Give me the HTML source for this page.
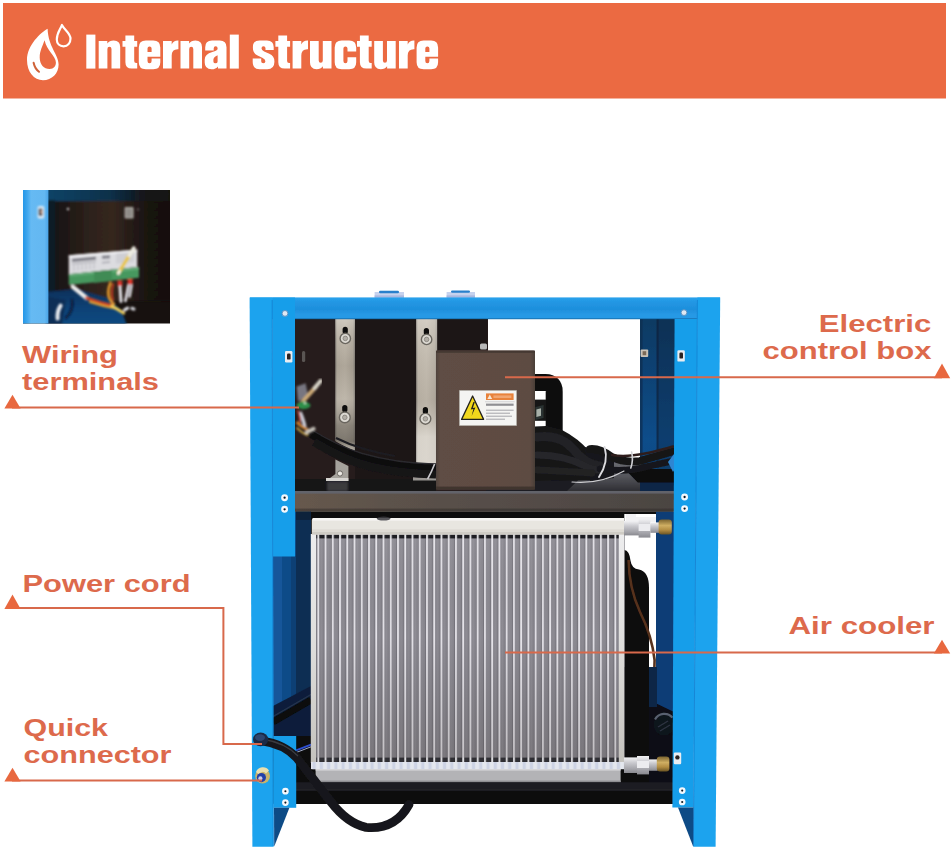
<!DOCTYPE html>
<html>
<head>
<meta charset="utf-8">
<title>Internal structure</title>
<style>
  html, body { margin: 0; padding: 0; background: #ffffff; }
  body { width: 952px; height: 851px; overflow: hidden; font-family: "Liberation Sans", sans-serif; }
  svg { display: block; }
  .lbl { font-family: "Liberation Sans", sans-serif; font-weight: bold; font-size: 23.5px; fill: #dd6a4c; }
  .ttl { font-family: "Liberation Sans", sans-serif; font-weight: bold; fill: #ffffff; stroke: #ffffff; }
</style>
</head>
<body>
<svg width="952" height="851" viewBox="0 0 952 851">
  <defs>
    <filter id="soft" x="-5%" y="-5%" width="110%" height="110%"><feGaussianBlur stdDeviation="0.6"/></filter>
    <filter id="soft05" x="-2%" y="-2%" width="104%" height="104%"><feGaussianBlur stdDeviation="0.5"/></filter>
    <filter id="soft1" x="-5%" y="-5%" width="110%" height="110%"><feGaussianBlur stdDeviation="0.85"/></filter>
    <filter id="soft2" x="-5%" y="-5%" width="110%" height="110%"><feGaussianBlur stdDeviation="1.2"/></filter>
    <pattern id="fins" x="316.4" y="0" width="7.245" height="10" patternUnits="userSpaceOnUse">
      <rect x="0" y="0" width="7.245" height="10" fill="#88868e"/>
      <rect x="0.1" y="0" width="0.9" height="10" fill="#74727a"/>
      <rect x="1.0" y="0" width="1.8" height="10" fill="#e6e4ea"/>
      <rect x="4.2" y="0" width="1.4" height="10" fill="#8e8c94"/>
    </pattern>
    
    <!-- Impact-style glyphs: baseline y=0, cap -34, x-height -27.7 -->
    <path id="gI" d="M0 0 V-34 H9.1 V0 Z"/>
    <path id="gl" d="M0 0 V-34 H9 V0 Z"/>
    <path id="gn" d="M0 0 V-27.6 H8.6 V-25.2 Q10.6 -28.2 15 -28.2 Q21.5 -28.2 21.5 -21.6 V0 H12.8 V-19.6 Q12.8 -21.8 10.7 -21.8 Q8.7 -21.8 8.7 -19.6 V0 Z"/>
    <path id="gu" d="M0 -27.6 H8.7 V-8 Q8.7 -5.8 10.75 -5.8 Q12.8 -5.8 12.8 -8 V-27.6 H21.5 V0 H12.9 V-2.4 Q10.9 0.6 6.5 0.6 Q0 0.6 0 -6 Z"/>
    <path id="gt" d="M2.9 -33.2 H11.7 V-27.6 H14.7 V-21.8 H11.7 V-7.6 Q11.7 -5.6 13.6 -5.6 H14.7 V0 H9.2 Q2.9 0 2.9 -6.3 V-21.8 H0 V-27.6 H2.9 Z"/>
    <path id="gr" d="M0 0 V-27.6 H8.7 V-24 Q10.4 -28.2 15.4 -28 V-19.4 Q8.7 -19.8 8.7 -13 V0 Z"/>
    <path id="ge" fill-rule="evenodd" d="M7 -28.2 H14.5 Q21.5 -28.2 21.5 -21.2 V-11.8 H8.7 V-7.6 Q8.7 -5.4 10.75 -5.4 Q12.8 -5.4 12.8 -7.6 V-10.2 H21.5 V-6.4 Q21.5 0.6 14.5 0.6 H7 Q0 0.6 0 -6.4 V-21.2 Q0 -28.2 7 -28.2 Z M8.7 -16.6 V-20 Q8.7 -22.2 10.75 -22.2 Q12.8 -22.2 12.8 -20 V-16.6 Z"/>
    <path id="gc" d="M7 -28.2 H14.5 Q21.5 -28.2 21.5 -21.2 V-17 H12.8 V-20 Q12.8 -22.2 10.75 -22.2 Q8.7 -22.2 8.7 -20 V-7.6 Q8.7 -5.4 10.75 -5.4 Q12.8 -5.4 12.8 -7.6 V-11.4 H21.5 V-6.4 Q21.5 0.6 14.5 0.6 H7 Q0 0.6 0 -6.4 V-21.2 Q0 -28.2 7 -28.2 Z"/>
    <path id="ga" fill-rule="evenodd" d="M7.3 -28.2 H15 Q21.8 -28.2 21.8 -21.4 V0 H13.3 V-2.2 Q11.2 0.6 6.8 0.6 Q0 0.6 0 -6 V-9 Q0 -14.6 7.6 -16.6 Q12.9 -18 12.9 -19.8 V-20.4 Q12.9 -22.3 11 -22.3 Q9 -22.3 9 -20.2 V-18 H0.5 V-21.4 Q0.5 -28.2 7.3 -28.2 Z M12.9 -13.4 Q8.7 -11.6 8.7 -9 V-7.2 Q8.7 -5.3 10.8 -5.3 Q12.9 -5.3 12.9 -7.2 Z"/>
    <path id="gs" d="M6.9 -28.2 H14.2 Q21 -28.2 21 -21.6 V-18.6 H12.8 V-20.4 Q12.8 -22.4 10.8 -22.4 Q8.8 -22.4 8.8 -20.4 Q8.8 -18.4 11.4 -17.2 L16.6 -14.8 Q21.7 -12.4 21.7 -7.4 V-6.5 Q21.7 0.6 14.6 0.6 H7 Q0 0.6 0 -6.5 V-10.2 H8.5 V-7.4 Q8.5 -5.3 10.6 -5.3 Q12.7 -5.3 12.7 -7.4 Q12.7 -9.4 10 -10.6 L4.9 -13 Q0.2 -15.4 0.2 -20.6 V-21.6 Q0.2 -28.2 6.9 -28.2 Z"/>
    <pattern id="finsDark" x="316.4" y="0" width="7.245" height="10" patternUnits="userSpaceOnUse">
      <rect x="0" y="0" width="7.245" height="10" fill="#1d1d22"/>
      <rect x="1.0" y="0" width="1.9" height="10" fill="#e3e3e6"/>
    </pattern>
    <pattern id="bumps" x="316.4" y="0" width="7.245" height="10" patternUnits="userSpaceOnUse">
      <rect x="3.4" y="0" width="3.2" height="10" fill="#c3cbe0" opacity="0.7"/>
    </pattern>
    <linearGradient id="gFinShade" x1="0" y1="0" x2="0" y2="1">
      <stop offset="0" stop-color="#ffffff" stop-opacity="0.06"/>
      <stop offset="0.45" stop-color="#000000" stop-opacity="0"/>
      <stop offset="1" stop-color="#1a1208" stop-opacity="0.16"/>
    </linearGradient>
    <linearGradient id="gSideFrame" x1="0" y1="0" x2="0" y2="1">
      <stop offset="0" stop-color="#ededee"/>
      <stop offset="0.5" stop-color="#dedddb"/>
      <stop offset="1" stop-color="#c4c2bd"/>
    </linearGradient>
    <linearGradient id="gShelfTop" x1="0" y1="0" x2="0" y2="1">
      <stop offset="0" stop-color="#6b6c72"/>
      <stop offset="0.5" stop-color="#54555b"/>
      <stop offset="1" stop-color="#2c2c31"/>
    </linearGradient>
    <linearGradient id="gBackPost" x1="0" y1="0" x2="0" y2="1">
      <stop offset="0" stop-color="#0b3a62"/>
      <stop offset="0.35" stop-color="#0d4376"/>
      <stop offset="0.7" stop-color="#0f4d8a"/>
      <stop offset="1" stop-color="#0e4980"/>
    </linearGradient>
    <linearGradient id="gShelfFront" x1="0" y1="0" x2="1" y2="0">
      <stop offset="0" stop-color="#67594d"/>
      <stop offset="0.25" stop-color="#5c524b"/>
      <stop offset="0.6" stop-color="#544c47"/>
      <stop offset="1" stop-color="#4b4542"/>
    </linearGradient>
    <linearGradient id="gBeam" x1="0" y1="0" x2="0" y2="1">
      <stop offset="0" stop-color="#2ba2ec"/>
      <stop offset="0.2" stop-color="#2297e4"/>
      <stop offset="0.55" stop-color="#1e8fdc"/>
      <stop offset="0.8" stop-color="#2799e5"/>
      <stop offset="0.93" stop-color="#2799e5"/>
      <stop offset="1" stop-color="#14639f"/>
    </linearGradient>
  </defs>

  <!-- page background -->
  <rect x="0" y="0" width="952" height="851" fill="#ffffff"/>

  <!-- ============ BANNER ============ -->
  <g id="banner">
    <rect x="3" y="3" width="943" height="95.5" fill="#eb6a42"/>
    <g id="title" fill="#ffffff">
      <use href="#gI" x="86.3" y="68.6"/>
      <use href="#gn" x="98.7" y="68.6"/>
      <use href="#gt" x="122.5" y="68.6"/>
      <use href="#ge" x="138.8" y="68.6"/>
      <use href="#gr" x="163.0" y="68.6"/>
      <use href="#gn" x="180.5" y="68.6"/>
      <use href="#ga" x="204.7" y="68.6"/>
      <use href="#gl" x="229.8" y="68.6"/>
      <use href="#gs" x="252.7" y="68.6"/>
      <use href="#gt" x="275.4" y="68.6"/>
      <use href="#gr" x="292.6" y="68.6"/>
      <use href="#gu" x="310.0" y="68.6"/>
      <use href="#gc" x="334.7" y="68.6"/>
      <use href="#gt" x="357.0" y="68.6"/>
      <use href="#gu" x="374.2" y="68.6"/>
      <use href="#gr" x="399.0" y="68.6"/>
      <use href="#ge" x="416.6" y="68.6"/>
    </g>
    <g id="dropicon">
      <path fill="#ffffff" fill-rule="evenodd" d="M47.6 28.8 C41 32.5 27 45 27 60 C27 72 34 80.2 43 80.2 C52 80.2 58.6 73.5 58.6 64.5 C58.6 54.5 48.2 47 47.6 28.8 Z M44.6 40.3 C42.6 46 39.7 51 39.7 57.5 C39.7 64.5 44 69 49.5 69 C54 69 55.9 66 55.9 62.5 C55.9 56 46.4 50.5 44.6 40.3 Z"/>
      <path fill="none" stroke="#cf6238" stroke-width="2" stroke-linecap="round" d="M33.6 62.8 C34.5 67 36.5 70 39 71.8"/>
      <path fill="none" stroke="#ffffff" stroke-width="2.2" stroke-linejoin="round" d="M61.9 25 C60.4 29.5 56.8 33 56.8 39.5 C56.8 43.8 59.8 46.3 63.6 46.3 C67.8 46.3 70.5 43 70.5 38.6 C70.5 33 64.5 30 61.9 25 Z"/>
    </g>
  </g>

  <!-- ============ INSET PHOTO ============ -->
  <g id="inset">
    <defs>
      <clipPath id="insClip"><rect x="23" y="190" width="147" height="133.4"/></clipPath>
      <linearGradient id="gInsStrip" x1="0" y1="0" x2="1" y2="0">
        <stop offset="0" stop-color="#2597e8"/>
        <stop offset="0.16" stop-color="#3fa6ed"/>
        <stop offset="0.32" stop-color="#66baf3"/>
        <stop offset="0.85" stop-color="#63b7f1"/>
        <stop offset="1" stop-color="#4aa3e6"/>
      </linearGradient>
      <linearGradient id="gInsTop" x1="0" y1="0" x2="1" y2="0">
        <stop offset="0" stop-color="#0d4468"/>
        <stop offset="0.5" stop-color="#0b3049"/>
        <stop offset="0.75" stop-color="#14161a"/>
        <stop offset="1" stop-color="#17110f"/>
      </linearGradient>
      <linearGradient id="gInsPanel" x1="0" y1="0" x2="1" y2="0">
        <stop offset="0" stop-color="#141110"/>
        <stop offset="0.3" stop-color="#2c211b"/>
        <stop offset="0.5" stop-color="#35271f"/>
        <stop offset="0.66" stop-color="#241a16"/>
        <stop offset="0.8" stop-color="#18120f"/>
        <stop offset="1" stop-color="#16110f"/>
      </linearGradient>
      <linearGradient id="gInsBlue" x1="0" y1="0" x2="0" y2="1">
        <stop offset="0" stop-color="#07305a"/>
        <stop offset="0.5" stop-color="#0a4276"/>
        <stop offset="1" stop-color="#0a4a82"/>
      </linearGradient>
    </defs>
    <g clip-path="url(#insClip)">
      <rect x="23" y="190" width="147" height="134" fill="#17110f"/>
      <g filter="url(#soft2)">
        <rect x="46" y="186" width="130" height="17" fill="url(#gInsTop)"/>
        <rect x="50" y="201" width="125" height="100" fill="url(#gInsPanel)"/>
        <rect x="47" y="200" width="8" height="95" fill="#0d1a26"/>
        <!-- blue floor -->
        <path d="M46 292 L76 289 L108 298 L122 312 L128 328 L46 328 Z" fill="url(#gInsBlue)"/>
        <path d="M46 296 L66 300 L62 326 L46 326 Z" fill="#0a2f56"/>
      </g>
      <!-- light blue strip -->
      <rect x="23" y="190" width="25.4" height="134" fill="url(#gInsStrip)"/>
      <g filter="url(#soft1)">
        <!-- latch -->
        <rect x="37.6" y="206" width="6.6" height="12.6" rx="1.5" fill="#dfeaf5"/>
        <rect x="38.8" y="208.4" width="3.6" height="7.6" rx="1.2" fill="#1b2430"/>
        <rect x="40.6" y="209.6" width="1.8" height="4.6" fill="#d9a98c"/>
        <!-- small dots / plate -->
        <circle cx="68" cy="209" r="1.2" fill="#cfcfcf"/>
        <circle cx="138" cy="209.4" r="1.2" fill="#5a5552"/>
        <rect x="124.6" y="207" width="9" height="11.6" rx="1" fill="#a9a6a1"/>
        <rect x="126" y="208.6" width="6.2" height="8.4" fill="#8f8c88"/>
        <!-- terminal label plate -->
        <path d="M68.8 255.2 L137.2 249.4 L137.2 267 L68.8 274.2 Z" fill="#dcdce0"/>
        <path d="M68.8 255.2 L137.2 249.4 L137.2 252 L68.8 257.8 Z" fill="#efeff2"/>
        <path d="M72 258.8 L96 256.6 V259.8 L72 262 Z" fill="#7d7d86"/>
        <path d="M72 263.5 L96 261.3 V262.3 L72 264.5 Z" fill="#a7a7ae"/>
        <g stroke="#b0b0b8" stroke-width="0.8"><path d="M74 265 V271"/><path d="M78 264.6 V270.6"/><path d="M82 264.2 V270.2"/><path d="M86 263.8 V269.8"/><path d="M90 263.4 V269.4"/><path d="M94 263 V269"/></g>
        <path d="M102 255.6 L110 254.9 V258.4 L102 259.1 Z" fill="#8a8a93"/>
        <path d="M102 262 L110 261.3 V262.8 L102 263.5 Z" fill="#a5a5ad"/>
        <path d="M116 253.6 L134 252 V262 L116 263.6 Z" fill="#cfcfd4"/>
        <!-- green strip -->
        <path d="M68.8 274.2 L139 267 L139 277.8 L68.8 285 Z" fill="#47985e"/>
        <path d="M68.8 274.2 L139 267 L139 269.4 L68.8 276.6 Z" fill="#63ad79"/>
        <path d="M94 271.6 L112 269.8 V281 L94 283 Z" fill="#3f8b55"/>
        <!-- wires -->
        <g fill="none" stroke-linecap="round">
          <path d="M118.6 272.6 L133.6 248.6" stroke="#e7c64e" stroke-width="3.6"/>
          <path d="M129.4 255.4 L133.8 248.2" stroke="#ecebe4" stroke-width="3.8"/>
          <path d="M118.4 273.4 L119.4 271.4" stroke="#f4f2e6" stroke-width="3"/>
          <path d="M110.4 283 Q106.6 292 109.6 299 Q111 302 114 304" stroke="#e69a2e" stroke-width="2.6"/>
          <path d="M113.2 284 Q110.6 293 113 300" stroke="#cf3a24" stroke-width="1.8"/>
          <rect x="117.6" y="280.6" width="4.6" height="6" fill="#d9342b" stroke="none"/>
          <rect x="127.6" y="279" width="5" height="6" fill="#d9342b" stroke="none"/>
          <path d="M120 287 L121 301.6" stroke="#ececf2" stroke-width="2.8"/>
          <path d="M128.4 285.6 L125.4 301" stroke="#e6e6ee" stroke-width="2.6"/>
          <path d="M131.6 285.4 L129.6 296.6" stroke="#e2e2ea" stroke-width="2.4"/>
          <path d="M72.6 286.6 L86.6 298" stroke="#ecebea" stroke-width="4.2"/>
          <path d="M86.6 298 Q100 303 112 305.6" stroke="#cf4427" stroke-width="3.4"/>
          <path d="M90 302 Q104 306.6 118 309" stroke="#e6a534" stroke-width="2.2"/>
          <path d="M112 306 L123.6 313" stroke="#f0cf5a" stroke-width="3.2"/>
          <path d="M124.6 309.8 l3 -1.6" stroke="#e1e1e6" stroke-width="3.2"/>
          <path d="M132 308.4 l1.8 0.6" stroke="#cfcfd4" stroke-width="3.4"/>
          <path d="M60.6 305.6 Q57 311 57.6 318.6" stroke="#e6e9ee" stroke-width="4"/>
          <path d="M72 300 Q74 310 66 318" stroke="#0a1a3a" stroke-width="2.4"/>
        </g>
      </g>
    </g>
</g>


  <!-- ============ MACHINE ============ -->
  <g id="machine">
    <g id="mA" filter="url(#soft05)">
    <!-- ===== top ports ===== -->
    <g id="ports" filter="url(#soft)">
      <rect x="374.6" y="292" width="29.4" height="5.8" fill="#c6d2ee"/>
      <rect x="379" y="290.8" width="20" height="2.4" rx="1.2" fill="#2a80cc"/>
      <rect x="374.6" y="295.4" width="29.4" height="2.4" fill="#a9b8e0"/>
      <rect x="446.6" y="292" width="28.4" height="5.8" fill="#c6d2ee"/>
      <rect x="451" y="290.4" width="19" height="2.4" rx="1.2" fill="#2a80cc"/>
      <rect x="446.6" y="295.4" width="28.4" height="2.4" fill="#a9b8e0"/>
    </g>

    <!-- ===== upper compartment background ===== -->
    <g id="upperbg">
      <rect x="294" y="318" width="194" height="174" fill="#281e1a"/>
      <rect x="355" y="319" width="61.2" height="160" fill="#1c1412"/>
      
      <!-- back blue post (right) -->
      <rect x="640" y="318" width="35" height="175" fill="url(#gBackPost)"/>
      <rect x="640" y="318" width="2.6" height="150" fill="#082c4e" opacity="0.7"/>
      <rect x="656.6" y="318" width="18.4" height="175" fill="#06223c" opacity="0.35"/>
      <rect x="656.6" y="318" width="2" height="150" fill="#061f38" opacity="0.6"/>
      <!-- shelf top surface right part -->
      <path d="M486 462 H640 V492 H486 Z" fill="#1d1d20"/>
      <path d="M566 492 L598 461 H641 V492 Z" fill="url(#gShelfTop)"/>
      <rect x="640" y="481" width="35" height="11" fill="#0c2747"/>
      <!-- black cut-out on shelf -->
      <path d="M624.6 469 H674 V482.4 H637.8 Z" fill="#0b0b0d"/>
      <!-- shelf top, left part (dark, glossy) -->
      <rect x="294" y="479" width="142" height="13" fill="#161518"/>
      <rect x="327" y="481.4" width="21" height="10" fill="#47474b" opacity="0.75" filter="url(#soft2)"/>
    </g>

    <!-- ===== shelf front ===== -->
    <g id="shelf">
      <rect x="294" y="491" width="380" height="20.8" fill="url(#gShelfFront)"/>
      <rect x="294" y="491" width="380" height="2.6" fill="#62636b"/>
      <rect x="294" y="508.6" width="380" height="3.2" fill="#2a2523" opacity="0.45"/>
    </g>

    <!-- ===== lower compartment background ===== -->
    <g id="lowerbg">
      <rect x="273" y="511.8" width="400" height="292" fill="#0a0a0c"/>
      <!-- left dark blue panel -->
      <rect x="273" y="511.8" width="23.5" height="225" fill="#0f4c88"/>
      <rect x="273" y="556" width="9" height="180" fill="#13569a"/>
      <rect x="291" y="556" width="6" height="180" fill="#0c3f74"/>
      <rect x="296" y="511.8" width="15" height="225" fill="#0b2d52"/>
      <rect x="296" y="511.8" width="15" height="8" fill="#09203a"/>
      <path d="M273 706 L311 686 V737 H273 Z" fill="#0b1f3a"/>
      <path d="M273 722 L311 700" stroke="#07090e" stroke-width="7" fill="none"/>
      <path d="M273 716.6 L311 694.6" stroke="#27344e" stroke-width="1.2" fill="none"/>
      <rect x="296" y="736" width="15" height="48" fill="#090b10"/>
      <path d="M296 750.4 L311 744.6" stroke="#2f4fd0" stroke-width="2" fill="none"/>
      <path d="M296 752.6 L311 746.8" stroke="#c9d2f2" stroke-width="0.8" fill="none"/>
      <!-- right: white gap, compressor, dark blue -->
      <rect x="624.3" y="514" width="32" height="153" fill="#ffffff"/>
      <rect x="656" y="511.8" width="18" height="292" fill="#0d3c76"/>
      <path d="M624.3 550 Q629.4 550.4 630.6 561 Q631.6 568.6 639 569.6 Q649 571.6 649 588 V804 H624.3 Z" fill="#0c0b0c"/>
      <path d="M628.6 560 Q629 588 640 612 Q652 636 654.6 660 Q653.6 700 652 716" stroke="#57301c" stroke-width="2.6" fill="none" filter="url(#soft)"/>
      <rect x="649" y="667" width="8" height="100" fill="#0d1828"/>
      <!-- lower right dark zone + filter / drier -->
      <path d="M649 700 L674 712 V804 H649 Z" fill="#0a0c12"/>
      <rect x="649" y="667" width="8" height="40" fill="#0d2746"/>
      <circle cx="664" cy="725" r="10.5" fill="#10141d"/>
      <path d="M655 719.6 A10.5 10.5 0 0 1 672.4 717.6" stroke="#596170" stroke-width="2.2" fill="none"/>
      <path d="M658 727 l10 -6 M660 731 l10 -6" stroke="#2c3442" stroke-width="1.4" fill="none"/>
    </g>

    </g>
    <!-- ===== radiator ===== -->
    <g id="radiator">
      <rect x="311" y="534" width="313.5" height="228" fill="#88868e"/>
      <rect x="316.4" y="534" width="302.6" height="228" fill="url(#fins)"/>
      <rect x="316.4" y="534" width="302.6" height="228" fill="url(#gFinShade)"/>
      <!-- shadow gaps under header / above bottom tank (fins stay light) -->
      <rect x="316.4" y="534.4" width="302.6" height="4" fill="url(#finsDark)"/>
      <rect x="316.4" y="757.6" width="302.6" height="4.6" fill="url(#finsDark)" opacity="0.8"/>
      <!-- side frames -->
      <rect x="310.8" y="534" width="5.2" height="229" fill="url(#gSideFrame)"/>
      <rect x="618.8" y="534" width="5.4" height="229" fill="url(#gSideFrame)"/>
      <!-- top header -->
      <path d="M313.5 518 H624 V534.6 H311.8 V520 Q311.8 518 313.5 518 Z" fill="#e8e6e0"/>
      <rect x="313" y="518" width="311" height="2.6" fill="#f7f6f3"/>
      <rect x="312" y="529.4" width="312" height="1.4" fill="#dcd9d2"/>
      <rect x="312" y="531.6" width="312" height="3" fill="#cfccc5"/>
      <ellipse cx="383.6" cy="518.6" rx="7" ry="2" fill="#3a3a3e" opacity="0.85"/>
      <!-- bottom header -->
      <rect x="311" y="762" width="313.5" height="7.2" fill="#e4e7ee"/>
      <rect x="311" y="762" width="313.5" height="7.2" fill="url(#bumps)"/>
      <rect x="315.6" y="769" width="305" height="13.6" fill="#b3b3b6"/>
      <rect x="315.6" y="769" width="305" height="1.6" fill="#d5d5d8"/>
      <rect x="315.6" y="780.6" width="305" height="2" fill="#8f8f93"/>
    </g>

    <g id="mB" filter="url(#soft05)">
    <!-- ===== black base ===== -->
    <g id="base">
      <rect x="296" y="782.4" width="377" height="21.6" fill="#0f0f11"/>
      <rect x="296" y="782.4" width="377" height="7" fill="#1f1f23"/>
      <rect x="296" y="789.4" width="377" height="1.2" fill="#2c2c31"/>
    </g>

<!-- ===== upper compartment details ===== -->
    <g id="upperdetail">
      <defs>
        <linearGradient id="gSteel" x1="0" y1="0" x2="1" y2="0">
          <stop offset="0" stop-color="#7f7b74"/>
          <stop offset="0.1" stop-color="#b3aa9c"/>
          <stop offset="0.5" stop-color="#bab1a3"/>
          <stop offset="0.88" stop-color="#a9a093"/>
          <stop offset="1" stop-color="#827e77"/>
        </linearGradient>
        <linearGradient id="gSteelV" x1="0" y1="0" x2="0" y2="1">
          <stop offset="0" stop-color="#e6e3dc" stop-opacity="0.5"/>
          <stop offset="0.15" stop-color="#d0ccc4" stop-opacity="0.25"/>
          <stop offset="0.35" stop-color="#8c887f" stop-opacity="0.25"/>
          <stop offset="0.6" stop-color="#c9c5bd" stop-opacity="0.3"/>
          <stop offset="0.8" stop-color="#6a665f" stop-opacity="0.55"/>
          <stop offset="0.92" stop-color="#55514b" stop-opacity="0.6"/>
          <stop offset="1" stop-color="#d9d6cf" stop-opacity="0.5"/>
        </linearGradient>
        <linearGradient id="gSteelV2" x1="0" y1="0" x2="0" y2="1">
          <stop offset="0" stop-color="#eeebe5" stop-opacity="0.5"/>
          <stop offset="0.25" stop-color="#d6d2ca" stop-opacity="0.35"/>
          <stop offset="0.55" stop-color="#bbb7af" stop-opacity="0.25"/>
          <stop offset="0.8" stop-color="#efede8" stop-opacity="0.6"/>
          <stop offset="1" stop-color="#e8e5df" stop-opacity="0.7"/>
        </linearGradient>
        <linearGradient id="gBox" x1="0" y1="0" x2="1" y2="0">
          <stop offset="0" stop-color="#4f423c"/>
          <stop offset="0.04" stop-color="#5f4d44"/>
          <stop offset="0.95" stop-color="#5d4b42"/>
          <stop offset="1" stop-color="#4a3e38"/>
        </linearGradient>
      </defs>
      <!-- small slot on back wall -->
      <rect x="302" y="351" width="3.2" height="11" rx="1.5" fill="#5a5552"/>
      <!-- bracket 1 -->
      <path d="M335.3 319 H354.9 V452 L335.3 441 Z" fill="url(#gSteel)"/>
      <path d="M335.3 319 H354.9 V452 L335.3 441 Z" fill="url(#gSteelV)"/>
      <path d="M335.4 459.4 L348.4 466 V481 H326 L335.4 474 Z" fill="#a5a29c"/>
      <rect x="326" y="478" width="22.4" height="3" fill="#d6d4d0"/>
      <circle cx="340" cy="473.5" r="2.6" fill="#ece9e3" stroke="#55524e" stroke-width="0.8"/>
      <!-- bracket 2 -->
      <rect x="416.2" y="319" width="21" height="147" fill="url(#gSteel)"/>
      <rect x="416.2" y="319" width="21" height="147" fill="url(#gSteelV2)"/>
      <rect x="413" y="476" width="24" height="4.5" fill="#b9b6b0" opacity="0.8"/>
      <!-- screws on brackets -->
      <g id="bscrews">
        <g><rect x="342.6" y="326.8" width="5.2" height="7.4" rx="2.6" fill="#0d0b0a"/><circle cx="345.3" cy="338.4" r="5.2" fill="#dcd9d2" stroke="#6a665f" stroke-width="1.4"/><circle cx="345.3" cy="338.4" r="2.3" fill="#b3afa7" stroke="#7d7972" stroke-width="0.7"/></g>
        <g><rect x="342.2" y="405" width="5.2" height="7.4" rx="2.6" fill="#0d0b0a"/><circle cx="344.8" cy="417.4" r="5.4" fill="#dcd9d2" stroke="#6a665f" stroke-width="1.4"/><circle cx="344.8" cy="417.4" r="2.3" fill="#b3afa7" stroke="#7d7972" stroke-width="0.7"/></g>
        <g><rect x="423.8" y="328" width="5.2" height="7.4" rx="2.6" fill="#0d0b0a"/><circle cx="426.6" cy="339.4" r="5.2" fill="#dcd9d2" stroke="#6a665f" stroke-width="1.4"/><circle cx="426.6" cy="339.4" r="2.3" fill="#b3afa7" stroke="#7d7972" stroke-width="0.7"/></g>
        <g><rect x="422.8" y="407" width="5.2" height="7.4" rx="2.6" fill="#0d0b0a"/><circle cx="425.4" cy="418.8" r="5.4" fill="#dcd9d2" stroke="#6a665f" stroke-width="1.4"/><circle cx="425.4" cy="418.8" r="2.3" fill="#b3afa7" stroke="#7d7972" stroke-width="0.7"/></g>
      </g>

      <!-- panel behind box top -->
      <rect x="437.6" y="319" width="50" height="32" fill="#1c1513"/>
      <rect x="480" y="343.5" width="7" height="6" rx="1.5" fill="#b8b8b8"/>

      <!-- black pipe loop right of box -->
      <path d="M533 382.6 H545.6 Q554.2 382.6 554.2 391.4 V432" stroke="#0f0e0f" stroke-width="17" fill="none" stroke-linecap="butt"/>
      <path d="M535 399.6 H546 V420.8 H535 Z" fill="#141414"/>
      <path d="M535.4 407 L543.6 405 V418 L535.4 420 Z" fill="#2c3330"/>
      <path d="M536.4 409.4 L541 408.2 V415.8 L536.4 417 Z" fill="#a7b0a8"/>
      <!-- cable bundle right of box -->
      <path d="M535 426.4 L546 426 L562 430 Q578 438 590 452 L604 458 L606 480 L535 481 Z" fill="#161618"/>
      <path d="M584 447 L600 449 L614 457 L614 478 L590 481 Z" fill="#17171a"/>
      <g fill="none" stroke-linecap="round">
        <path d="M537 437 Q560 434 573 449 Q585 464 600 466" stroke="#212125" stroke-width="9"/>
        <path d="M537 455 Q565 455 585 466 Q592 470 600 470" stroke="#26262b" stroke-width="7"/>
        <path d="M537 470 Q560 471 592 473" stroke="#202024" stroke-width="7"/>
        <path d="M590 449 Q600 448 612 457 Q624 463 640 461 L673 451.4" stroke="#151517" stroke-width="7.6"/>
        <path d="M600 469 Q625 472.6 645 467 L673 461" stroke="#18181b" stroke-width="6.6"/>
        <path d="M612 455 Q632 459 673 446.6" stroke="#2e1f1a" stroke-width="2.6"/>
        <!-- cable ties -->
        <path d="M604.6 447 Q609 462 599 477" stroke="#dcdce0" stroke-width="1.9"/>
        <path d="M631.6 452 Q633.6 460 630.8 468" stroke="#d3d3d7" stroke-width="1.6"/>
        <path d="M572 482 Q600 484.6 624 471" stroke="#cfcfd3" stroke-width="1.1"/>
      </g>
      <path d="M668 462 l6 -8 l4 10 l-5 8 z" fill="#2f86d2"/>

      <!-- electric box -->
      <rect x="436" y="350.6" width="99" height="139" rx="1.5" fill="url(#gBox)"/>
      <rect x="436" y="350.6" width="99" height="2.2" fill="#443832"/>
      <rect x="436" y="486.6" width="99" height="3" fill="#3f342f"/>
      <!-- warning label -->
      <g id="warnlabel">
        <rect x="459.6" y="390.6" width="56.8" height="34.8" fill="#f4f4f2" stroke="#b9b6b0" stroke-width="0.8"/>
        <path d="M472.6 396 L483.6 419.4 H461.6 Z" fill="#f2d81c" stroke="#23211c" stroke-width="1.3" stroke-linejoin="round"/>
        <path d="M473.4 402 L470.8 409.4 L473.4 409 L471.6 416 L475.4 407.6 L472.8 408 L474.8 402 Z" fill="#23211c"/>
        <rect x="486" y="393.4" width="27.6" height="6.6" fill="#e8823a"/>
        <path d="M487.4 399 L489.8 394.4 L492.2 399 Z" fill="#f6e9d8"/>
        <rect x="493.4" y="395.4" width="18" height="2.6" fill="#f1a671"/>
        <rect x="486" y="403.6" width="27.6" height="2.2" fill="#8f8f93"/>
        <rect x="486" y="409.6" width="27.6" height="1.3" fill="#b6b6ba"/>
        <rect x="486" y="412.6" width="24" height="1.3" fill="#b6b6ba"/>
        <rect x="486" y="415.6" width="26" height="1.3" fill="#b6b6ba"/>
        <rect x="486" y="418.6" width="19" height="1.3" fill="#b6b6ba"/>
        <rect x="485" y="401.4" width="29.6" height="0.8" fill="#c9c9cc"/>
      </g>

      <!-- cable bundle left (from wiring terminals to box) -->
      <g fill="none" stroke-linecap="butt">
        <path d="M308 432 Q335 449 360 457 Q395 467 436 467.6" stroke="#0f0e10" stroke-width="8"/>
        <path d="M314 442 Q345 461 372 467 Q400 473.6 436 474.4" stroke="#151417" stroke-width="8"/>
        <path d="M312 430 Q338 446 362 453.4 Q396 463.4 436 464" stroke="#2b2a2f" stroke-width="1.2"/>
        <path d="M336 438 Q360 450 395 456" stroke="#1d1c20" stroke-width="2"/>
        <path d="M434.6 464 q-3 8 -7 15" stroke="#c9c9cc" stroke-width="1.6"/>
      </g>
      <!-- wiring terminal -->
      <g id="wterm" filter="url(#soft1)">
        <path d="M296.6 386.6 l9 -3.4 l2.4 12 l-10 6.6 z" fill="#9a9cab" opacity="0.7"/>
        <path d="M302.6 401.6 L316 386.6" stroke="#c9a774" stroke-width="4.2" stroke-linecap="round"/>
        <path d="M314.6 388 L320.6 381" stroke="#d6d2c6" stroke-width="4.2" stroke-linecap="round"/>
        <ellipse cx="303.4" cy="405.4" rx="7" ry="3.8" fill="#2f8f4a"/>
        <circle cx="305" cy="403" r="1.2" fill="#bfe6c4"/>
        <path d="M300 412 q4 9 5 16" stroke="#cfd0dc" stroke-width="3.4" fill="none"/>
        <path d="M297.6 410 q3 8 2 14" stroke="#b23a2c" stroke-width="2" fill="none"/>
        <path d="M296.6 422 q6 6 12 8" stroke="#c9822e" stroke-width="2.6" fill="none"/>
        <path d="M296.6 427.6 q6 6 12 8" stroke="#d9b34a" stroke-width="1.6" fill="none"/>
        <path d="M306.6 432.4 l7 -3.6" stroke="#c4c0b8" stroke-width="4" stroke-linecap="round"/>
      </g>
    </g>

    <!-- ===== fittings ===== -->
    <g id="fittings">
      <defs>
        <linearGradient id="gPipe" x1="0" y1="0" x2="0" y2="1">
          <stop offset="0" stop-color="#f2f2f4"/>
          <stop offset="0.35" stop-color="#c9c9ce"/>
          <stop offset="0.75" stop-color="#a4a4aa"/>
          <stop offset="1" stop-color="#8a8a90"/>
        </linearGradient>
        <linearGradient id="gBrass" x1="0" y1="0" x2="0" y2="1">
          <stop offset="0" stop-color="#7d6530"/>
          <stop offset="0.4" stop-color="#cfae62"/>
          <stop offset="0.7" stop-color="#b38d42"/>
          <stop offset="1" stop-color="#6c5626"/>
        </linearGradient>
      </defs>
      <!-- top right fitting -->
      <path d="M626 514 H636 V517 H656 V522 H626 Z" fill="#f1f1f3"/>
      <rect x="624" y="521" width="15" height="14.4" fill="url(#gPipe)"/>
      <path d="M638.6 519 H650.4 V537.6 H638.6 Z" fill="url(#gPipe)"/>
      <rect x="638.6" y="524" width="11.8" height="7" fill="#ececef"/>
      <rect x="650.4" y="522.4" width="9" height="10.4" fill="url(#gPipe)"/>
      <rect x="658.6" y="519.6" width="13.2" height="14.8" rx="3" fill="url(#gBrass)"/>
      <!-- bottom right fitting -->
      <rect x="624" y="757.4" width="14" height="15.6" fill="url(#gPipe)"/>
      <path d="M637 756 H649 V774.4 H637 Z" fill="url(#gPipe)"/>
      <rect x="637" y="761" width="12" height="7" fill="#ececef"/>
      <rect x="649" y="759.4" width="8.6" height="11.4" fill="url(#gPipe)"/>
      <rect x="656.8" y="756.6" width="12.6" height="14.8" rx="3.2" fill="url(#gBrass)"/>
    </g>

    <!-- ===== blue frame ===== -->
    <g id="frame">
      <!-- top beam -->
      <rect x="250" y="297.4" width="470" height="21.8" fill="url(#gBeam)"/>
      <!-- left post outer face -->
      <path d="M249.6 297.4 H272.4 L273.6 846.8 H252.4 Z" fill="#1ba3ee"/>
      <!-- left post inner face (upper) -->
      <path d="M272.4 297.4 H295 V556.4 H273 Z" fill="#179eea"/>
      <path d="M272.2 300 L273.2 846" stroke="#1787d6" stroke-width="1" fill="none"/>
      <!-- left lower bracket -->
      <rect x="273.4" y="736" width="22.8" height="71.8" fill="#199de9"/>
      <path d="M274 807.8 H289.4 L274.2 846.5 Z" fill="#0e4b86"/>
      <!-- right post inner face -->
      <path d="M674.6 319 H697.4 L693.4 807.4 H672.4 Z" fill="#199eea"/>
      <!-- right post outer face -->
      <path d="M697.4 297.4 H720.2 L715.6 846.8 H693.2 Z" fill="#1ca3ee"/>
      <path d="M697.4 300 L693.4 846" stroke="#1787d6" stroke-width="1" fill="none"/>
      <path d="M678 807.4 H693.4 L693.2 846.6 Z" fill="#0e4b86"/>
    </g>
    <!-- ===== frame hardware ===== -->
    <g id="hardware">
      <!-- corner screws -->
      <circle cx="285" cy="313.4" r="2.9" fill="#dfe8f2" stroke="#5d93c4" stroke-width="1"/>
      <circle cx="684" cy="312.6" r="2.9" fill="#dfe8f2" stroke="#5d93c4" stroke-width="1"/>
      <!-- latches -->
      <g><rect x="285" y="351" width="7.4" height="11.4" rx="1.2" fill="#e9edf2"/><rect x="287" y="353.6" width="3.6" height="6" rx="1.2" fill="#2a2320"/></g>
      <g><rect x="677.4" y="350.2" width="7.4" height="11.4" rx="1.2" fill="#e9edf2"/><rect x="679.4" y="352.6" width="3.6" height="6" rx="1.2" fill="#2a2320"/></g>
      <g><rect x="640.6" y="349.4" width="7.6" height="7.6" rx="1" fill="#c9c2b6"/><rect x="642.6" y="351.2" width="3.6" height="4" fill="#7a6a58"/></g>
      <g><rect x="673.8" y="752.6" width="7.4" height="11.6" rx="1.2" fill="#e9edf2"/><circle cx="677.4" cy="757.4" r="2.2" fill="#2a2320"/></g>
      <!-- ring screws -->
      <g fill="#101820" stroke="#f4f8fc" stroke-width="2.3">
        <circle cx="284.6" cy="497.7" r="2.3"/><circle cx="284.6" cy="509.3" r="2.3"/>
        <circle cx="684.6" cy="497" r="2.3"/><circle cx="684.6" cy="508.6" r="2.3"/>
        <circle cx="285.4" cy="791.2" r="2.2"/><circle cx="285.4" cy="802.6" r="2.2"/>
        <circle cx="682.2" cy="790.6" r="2.2"/><circle cx="682.2" cy="802" r="2.2"/>
      </g>
    </g>

    <!-- ===== power cord & quick connector ===== -->
    <g id="cord">
      <path d="M262 741 Q284 744 297 758 Q314 780 331 802 Q347 823 366 827.4 Q395 830 409 804.6" stroke="#17171a" stroke-width="8.8" fill="none" stroke-linecap="round"/>
      <path d="M264 739.5 Q285 742.5 298 756" stroke="#3a3a40" stroke-width="1.4" fill="none"/>
      <ellipse cx="260.6" cy="739.4" rx="7.6" ry="6.8" fill="#1b2a44"/>
      <ellipse cx="260" cy="737.6" rx="5" ry="3.4" fill="#2d456e"/>
      <!-- quick connector -->
      <g filter="url(#soft)">
        <circle cx="262.6" cy="776" r="7.4" fill="#c8b36a"/>
        <path d="M256 772 a7.4 7.4 0 0 1 13 -1.5 l-3 3 a4 4 0 0 0 -7 1 z" fill="#e9dfae"/>
        <circle cx="261.4" cy="777.6" r="4.6" fill="#2440a8"/>
        <circle cx="260.4" cy="778.4" r="2.1" fill="#c9cbe6"/>
      </g>
    </g>
</g>
</g>


  <!-- ============ LEADER LINES ============ -->
  <g id="leaders" fill="none" stroke="#d8694b" stroke-width="2">
    <path d="M12 407.4 H299"/>
    <path d="M12 608 H223.4 V744 H262"/>
    <path d="M12 780.6 H262"/>
    <path d="M505 377.2 H942"/>
    <path d="M505 652.6 H942"/>
  </g>
  <g id="arrows" fill="#e8683f">
    <path d="M4.4 408.4 L12.5 394.7 L20.6 408.4 Z"/>
    <path d="M4.4 609 L12.5 594.4 L20.6 609 Z"/>
    <path d="M4.4 781.6 L12.5 767.8 L20.6 781.6 Z"/>
    <path d="M933.8 378.2 L942 363.6 L950.2 378.2 Z"/>
    <path d="M933.8 653.6 L942 639.7 L950.2 653.6 Z"/>
  </g>

  <!-- ============ LABELS ============ -->
  <g id="labels" class="lbl">
    <text x="22" y="362.8" textLength="96" lengthAdjust="spacingAndGlyphs">Wiring</text>
    <text x="22" y="389.8" textLength="137" lengthAdjust="spacingAndGlyphs">terminals</text>
    <text x="22.5" y="591.8" textLength="168" lengthAdjust="spacingAndGlyphs">Power cord</text>
    <text x="23.5" y="735.6" textLength="84.5" lengthAdjust="spacingAndGlyphs">Quick</text>
    <text x="23.5" y="762.7" textLength="148" lengthAdjust="spacingAndGlyphs">connector</text>
    <text x="818.8" y="331.8" textLength="112.5" lengthAdjust="spacingAndGlyphs">Electric</text>
    <text x="762.5" y="358.8" textLength="169" lengthAdjust="spacingAndGlyphs">control box</text>
    <text x="788.5" y="633.6" textLength="146" lengthAdjust="spacingAndGlyphs">Air cooler</text>
  </g>
</svg>
</body>
</html>
